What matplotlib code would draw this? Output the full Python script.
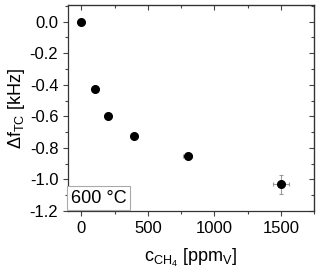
import matplotlib
matplotlib.use('Agg')
import matplotlib.pyplot as plt
from matplotlib.ticker import MultipleLocator

plt.rcParams['font.family'] = ['Liberation Sans', 'DejaVu Sans']
plt.rcParams['mathtext.fontset'] = 'custom'
plt.rcParams['mathtext.rm'] = 'Liberation Sans'
plt.rcParams['mathtext.it'] = 'Liberation Sans'

# data
conc = [0, 100, 200, 400, 800, 1500]
delta_f = [0.0, -0.425, -0.60, -0.725, -0.85, -1.03]
conc_err = [0, 0, 0, 0, 35, 60]
df_err = [0, 0, 0, 0, 0, 0.06]

fig = plt.figure(figsize=(3.2, 2.74), dpi=100)
ax = fig.add_axes([68 / 320, 1 - 211 / 274, 246 / 320, 206 / 274])

ax.errorbar(conc, delta_f, xerr=conc_err, yerr=df_err, fmt='o', color='black',
            ms=5.5, ecolor='#999999', elinewidth=0.8, capsize=1.5, capthick=0.8, zorder=3)

ax.set_xlim(-100, 1750)
ax.set_ylim(-1.2, 0.106)
ax.xaxis.set_major_locator(MultipleLocator(500))
ax.xaxis.set_minor_locator(MultipleLocator(250))
ax.yaxis.set_major_locator(MultipleLocator(0.2))
ax.yaxis.set_minor_locator(MultipleLocator(0.1))
ax.yaxis.set_major_formatter(plt.FuncFormatter(lambda v, p: f'{v:.1f}'))

ax.tick_params(which='both', direction='out', labelsize=12, width=0.8, color='#444444')
ax.tick_params(which='major', length=3.5)
ax.tick_params(which='minor', length=2)
for s in ax.spines.values():
    s.set_linewidth(0.9)
    s.set_color('#333333')

# mirror ticks on top/right pointing inward
axt = ax.secondary_xaxis('top')
axt.xaxis.set_major_locator(MultipleLocator(500))
axt.xaxis.set_minor_locator(MultipleLocator(250))
axt.tick_params(which='both', direction='in', labeltop=False, width=0.8, color='#444444')
axt.tick_params(which='major', length=3.5)
axt.tick_params(which='minor', length=2)
axr = ax.secondary_yaxis('right')
axr.yaxis.set_major_locator(MultipleLocator(0.2))
axr.yaxis.set_minor_locator(MultipleLocator(0.1))
axr.tick_params(which='both', direction='in', labelright=False, width=0.8, color='#444444')
axr.tick_params(which='major', length=3.5)
axr.tick_params(which='minor', length=2)

ax.set_xlabel(r'$\mathrm{c}_{\mathrm{CH}_4}$ [ppm$_\mathrm{V}$]', fontsize=13, labelpad=8)
ax.set_ylabel(r'$\Delta\mathrm{f}_{\mathrm{TC}}$ [kHz]', fontsize=13, labelpad=2)

ax.text(0.012, 0.02, '600 °C', transform=ax.transAxes, fontsize=13, ha='left', va='bottom',
        bbox=dict(boxstyle='square,pad=0.2', fc='white', ec='#aaaaaa', lw=0.8))

fig.savefig('out.png', dpi=100)
